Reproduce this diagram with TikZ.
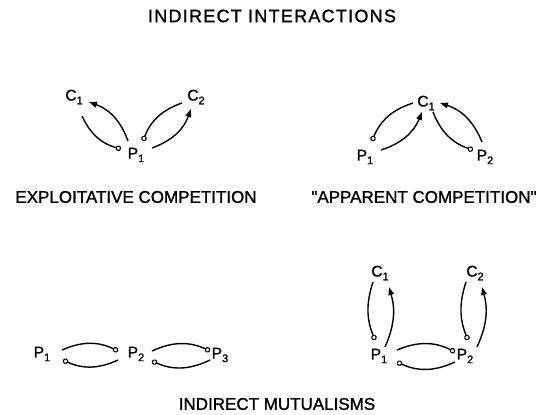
\documentclass[tikz,border=0pt]{standalone}
\usepackage{fontspec}
\setmainfont{Liberation Sans}[FakeBold=1.2,Ligatures=TeXOff]
\newfontfamily\titlefont{Liberation Sans}[LetterSpace=7,FakeBold=1.2]
\usetikzlibrary{arrows.meta,calc}
\newcommand\lbl[2]{#1\raisebox{-0.45ex}{\fontsize{11}{11}\selectfont #2}}
\begin{document}
\begin{tikzpicture}[x=1pt,y=-1pt,
  sp/.style={font=\fontsize{15.5}{15.5}\selectfont, inner sep=0pt},
  captext/.style={font=\fontsize{17}{17}\selectfont, inner sep=0pt},
  con/.style={line width=1.4pt},
  posarrow/.style={con,-{Triangle[length=8pt,width=5.5pt]}},
  negend/.style={con,-{Circle[open,length=5.5pt,width=5.5pt,line width=1.1pt]}},
  negstart/.style={con,{Circle[open,length=5.5pt,width=5.5pt,line width=1.1pt]}-}]
\useasboundingbox (0,0) rectangle (547,415);
% labels
\node[inner sep=0pt, font=\titlefont\fontsize{18}{18}\selectfont] (title) at (272,16) {INDIRECT INTERACTIONS};
\node[captext] (exp) at (136,197) {EXPLOITATIVE COMPETITION};
\node[captext] (app) at (424,197) {"APPARENT COMPETITION"};
\node[captext] (mut) at (277,404) {INDIRECT MUTUALISMS};
% top-left
\node[sp] (aC1) at (74,97) {\lbl{C}{1}};
\node[sp] (aC2) at (196,97) {\lbl{C}{2}};
\node[sp] (aP1) at (136,155) {\lbl{P}{1}};
\draw[posarrow] ($(aP1)+(-8,-14)$) to[bend right=25] ($(aC1)+(15,5)$);
\draw[negend] ($(aC1)+(8,19)$) to[bend right=25] ($(aP1)+(-15,-6)$);
\draw[negend] ($(aC2)+(-14,6)$) to[bend right=25] ($(aP1)+(7,-14)$);
\draw[posarrow] ($(aP1)+(16,-7)$) to[bend right=25] ($(aC2)+(-5,12)$);
% top-right
\node[sp] (bC1) at (426,103) {\lbl{C}{1}};
\node[sp] (bP1) at (365,157) {\lbl{P}{1}};
\node[sp] (bP2) at (485,157) {\lbl{P}{2}};
\draw[negend] ($(bC1)+(-13,0)$) to[bend right=25] ($(bP1)+(7,-16)$);
\draw[posarrow] ($(bP1)+(16,-7)$) to[bend right=25] ($(bC1)+(-4,9)$);
\draw[negend] ($(bC1)+(7,9)$) to[bend right=25] ($(bP2)+(-12,-7)$);
\draw[posarrow] ($(bP2)+(-3,-15)$) to[bend right=25] ($(bC1)+(14,0)$);
% bottom-left
\node[sp] (cP1) at (42,354) {\lbl{P}{1}};
\node[sp] (cP2) at (136,354) {\lbl{P}{2}};
\node[sp] (cP3) at (220,355) {\lbl{P}{3}};
\draw[negend] ($(cP1)+(20,-4)$) to[bend left=25] ($(cP2)+(-18,-3)$);
\draw[negstart] ($(cP1)+(21,6)$) to[bend right=25] ($(cP2)+(-18,6)$);
\draw[negend] ($(cP2)+(16,-3)$) to[bend left=25] ($(cP3)+(-10,-4)$);
\draw[negstart] ($(cP2)+(16,7)$) to[bend right=25] ($(cP3)+(-10,5)$);
% bottom-right
\node[sp] (dC1) at (380,273) {\lbl{C}{1}};
\node[sp] (dC2) at (475,273) {\lbl{C}{2}};
\node[sp] (dP1) at (379,356) {\lbl{P}{1}};
\node[sp] (dP2) at (465,356) {\lbl{P}{2}};
\draw[negend] ($(dC1)+(-7,9)$) to[bend right=20] ($(dP1)+(-4,-16)$);
\draw[posarrow] ($(dP1)+(6,-9)$) to[bend right=20] ($(dC1)+(9,14)$);
\draw[negend] ($(dC2)+(-9,9)$) to[bend right=20] ($(dP2)+(3,-16)$);
\draw[posarrow] ($(dP2)+(12,-9)$) to[bend right=20] ($(dC2)+(7,14)$);
\draw[negend] ($(dP1)+(18,-6)$) to[bend left=25] ($(dP2)+(-10,-4)$);
\draw[negstart] ($(dP1)+(18,6)$) to[bend right=25] ($(dP2)+(-10,6)$);
\end{tikzpicture}
\end{document}
